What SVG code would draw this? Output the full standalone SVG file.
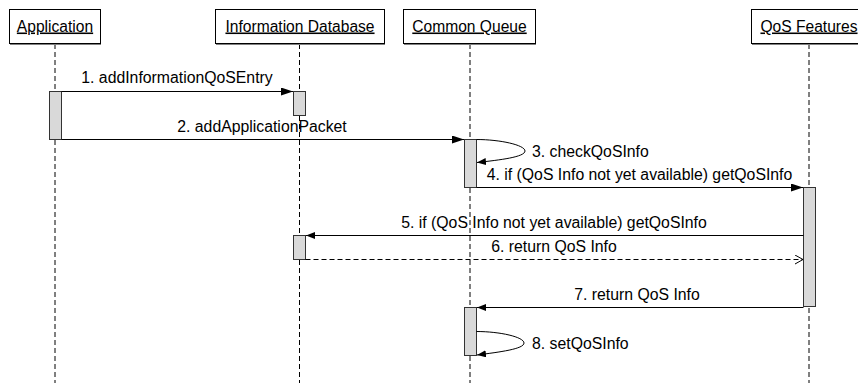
<svg xmlns="http://www.w3.org/2000/svg" width="858" height="383" viewBox="0 0 858 383">
  <style>
    .box { fill: #ffffff; stroke: #000000; stroke-width: 1; }
    .shadow { fill: none; stroke: #808080; stroke-width: 1; }
    .name { font-family: "Liberation Sans", Arial, sans-serif; font-size: 15.6px; fill: #000000; text-anchor: middle; text-decoration: underline; }
    .lifeline { stroke: #000000; stroke-width: 1; stroke-dasharray: 5 3; fill: none; }
    .act { fill: #d9d9d9; stroke: #333333; stroke-width: 1; }
    .msg { stroke: #000000; stroke-width: 1; fill: none; }
    .ret { stroke: #000000; stroke-width: 1; fill: none; stroke-dasharray: 5 3; }
    .label { font-family: "Liberation Sans", Arial, sans-serif; font-size: 15.8px; fill: #000000; }
    .mid { text-anchor: middle; }
  </style>
  <defs>
    <marker id="arrow" markerUnits="userSpaceOnUse" viewBox="0 0 12 8" refX="12" refY="4" markerWidth="12" markerHeight="8" orient="auto">
      <path d="M0,0 L12,4 L0,8 z" fill="#000000"/>
    </marker>
    <marker id="arrow-sm" markerUnits="userSpaceOnUse" viewBox="0 0 9 7" refX="9" refY="3.5" markerWidth="9" markerHeight="7" orient="auto">
      <path d="M0,0 L9,3.5 L0,7 z" fill="#000000"/>
    </marker>
    <marker id="open" markerUnits="userSpaceOnUse" viewBox="0 0 9 10" refX="8.5" refY="5" markerWidth="9" markerHeight="10" orient="auto">
      <path d="M0.5,0.5 L8.5,5 L0.5,9.5" fill="none" stroke="#000000" stroke-width="1"/>
    </marker>
  </defs>

  <rect width="858" height="383" fill="#ffffff"/>

  <!-- lifelines -->
  <g id="lifelines">
    <line class="lifeline" x1="55" y1="44" x2="55" y2="383"/>
    <line class="lifeline" x1="299.5" y1="44" x2="299.5" y2="383"/>
    <line class="lifeline" x1="470" y1="44" x2="470" y2="383"/>
    <line class="lifeline" x1="809" y1="44" x2="809" y2="383"/>
  </g>

  <!-- participants -->
  <g id="application">
    <rect class="box" x="9.5" y="9.5" width="91" height="34"/>
    <line class="shadow" x1="10" y1="44.5" x2="101" y2="44.5"/>
    <text class="name" x="55" y="31.5">Application</text>
  </g>
  <g id="information-database">
    <rect class="box" x="215.5" y="9.5" width="169" height="34"/>
    <line class="shadow" x1="216" y1="44.5" x2="385" y2="44.5"/>
    <text class="name" x="300" y="31.5">Information Database</text>
  </g>
  <g id="common-queue">
    <rect class="box" x="403.5" y="9.5" width="132" height="34"/>
    <line class="shadow" x1="404" y1="44.5" x2="536" y2="44.5"/>
    <text class="name" x="469.5" y="31.5">Common Queue</text>
  </g>
  <g id="qos-features">
    <rect class="box" x="751.5" y="9.5" width="116" height="34"/>
    <line class="shadow" x1="752" y1="44.5" x2="858" y2="44.5"/>
    <text class="name" x="809" y="31.5">QoS Features</text>
  </g>

  <!-- activation bars -->
  <g id="activations">
    <rect class="act" x="49.5" y="91.5" width="12" height="48"/>
    <rect class="act" x="293.5" y="91.5" width="12" height="24"/>
    <rect class="act" x="464.5" y="139.5" width="12" height="48"/>
    <rect class="act" x="803.5" y="187.5" width="12" height="119"/>
    <rect class="act" x="293.5" y="235.5" width="12" height="24"/>
    <rect class="act" x="464.5" y="307.5" width="12" height="48"/>
  </g>

  <!-- messages -->
  <g id="connectors">
    <line class="msg" x1="61.5" y1="91.5" x2="293" y2="91.5" marker-end="url(#arrow)"/>
    <text class="label mid" x="177" y="83">1. addInformationQoSEntry</text>

    <line class="msg" x1="61.5" y1="139.5" x2="464" y2="139.5" marker-end="url(#arrow)"/>
    <text class="label mid" x="262" y="132">2. addApplicationPacket</text>

    <path class="msg" d="M476.5,139.5 C500,139.5 525,145 525,151 C525,157 500,160 477,162.5" marker-end="url(#arrow-sm)"/>
    <text class="label" x="532" y="157">3. checkQoSInfo</text>

    <line class="msg" x1="476.5" y1="187.5" x2="803" y2="187.5" marker-end="url(#arrow)"/>
    <text class="label mid" x="639.5" y="180">4. if (QoS Info not yet available) getQoSInfo</text>

    <line class="msg" x1="803.5" y1="235.5" x2="306" y2="235.5" marker-end="url(#arrow-sm)"/>
    <text class="label mid" x="554" y="228">5. if (QoS Info not yet available) getQoSInfo</text>

    <line class="ret" x1="305.5" y1="259.5" x2="803" y2="259.5" marker-end="url(#open)"/>
    <text class="label mid" x="554" y="252">6. return QoS Info</text>

    <line class="msg" x1="803.5" y1="307.5" x2="477" y2="307.5" marker-end="url(#arrow-sm)"/>
    <text class="label mid" x="637" y="300">7. return QoS Info</text>

    <path class="msg" d="M476.5,331.5 C500,331.5 524,337 524,343 C524,349 500,352 477,355" marker-end="url(#arrow-sm)"/>
    <text class="label" x="532" y="348.5">8. setQoSInfo</text>
  </g>
</svg>
